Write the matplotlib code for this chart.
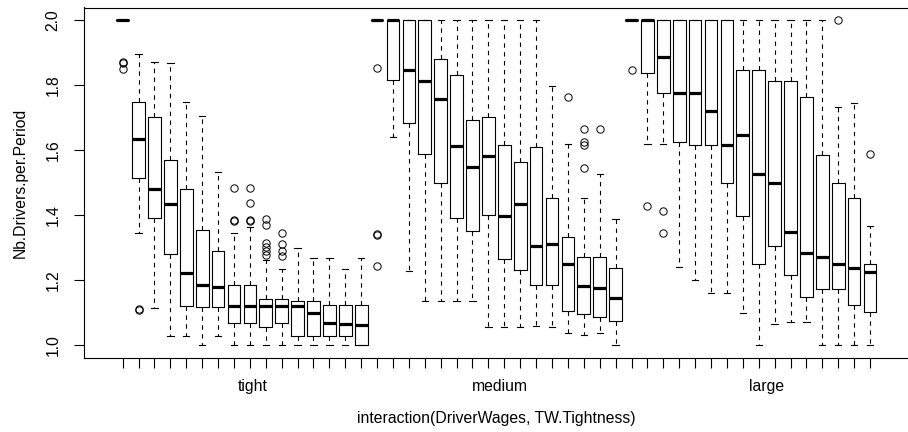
import matplotlib
matplotlib.use("Agg")
import matplotlib.pyplot as plt
import numpy as np

plt.rcParams['font.family'] = ['Liberation Sans', 'DejaVu Sans']

groups = ["tight", "medium", "large"]

# per-box summary statistics (16 wage levels per tightness group)
tight_lo  = [2.0, 1.344, 1.113, 1.029, 1.029, 1.000, 1.029, 1.000, 1.000, 1.000, 1.000, 1.000, 1.000, 1.000, 1.000, 1.000]
tight_q1  = [2.0, 1.514, 1.391, 1.280, 1.120, 1.118, 1.116, 1.067, 1.067, 1.055, 1.067, 1.028, 1.028, 1.028, 1.028, 1.000]
tight_med = [2.0, 1.635, 1.482, 1.434, 1.223, 1.184, 1.178, 1.121, 1.121, 1.121, 1.121, 1.121, 1.100, 1.069, 1.064, 1.062]
tight_q3  = [2.0, 1.748, 1.702, 1.569, 1.482, 1.353, 1.289, 1.185, 1.185, 1.142, 1.142, 1.137, 1.137, 1.124, 1.124, 1.124]
tight_hi  = [2.0, 1.897, 1.873, 1.868, 1.748, 1.707, 1.533, 1.346, 1.365, 1.262, 1.233, 1.298, 1.267, 1.267, 1.233, 1.267]
tight_out = [[1.872, 1.870, 1.850], [1.111, 1.109], [], [], [], [], [],
             [1.483, 1.385, 1.383], [1.483, 1.439, 1.385, 1.383],
             [1.387, 1.370, 1.313, 1.301, 1.289, 1.276],
             [1.346, 1.311, 1.289, 1.274], [], [], [], [], []]

medium_lo  = [2.0, 1.641, 1.228, 1.136, 1.136, 1.136, 1.136, 1.056, 1.056, 1.056, 1.058, 1.056, 1.036, 1.032, 1.036, 1.000]
medium_q1  = [2.0, 1.817, 1.683, 1.590, 1.499, 1.390, 1.350, 1.400, 1.266, 1.230, 1.184, 1.184, 1.106, 1.096, 1.087, 1.075]
medium_med = [2.0, 2.000, 1.848, 1.813, 1.759, 1.613, 1.549, 1.581, 1.399, 1.434, 1.306, 1.312, 1.249, 1.181, 1.175, 1.145]
medium_q3  = [2.0, 2.000, 2.000, 2.000, 1.880, 1.831, 1.694, 1.704, 1.617, 1.563, 1.610, 1.453, 1.332, 1.271, 1.271, 1.237]
medium_hi  = [2.0, 2.000, 2.000, 2.000, 2.000, 2.000, 2.000, 2.000, 2.000, 2.000, 2.000, 1.798, 1.619, 1.452, 1.526, 1.389]
medium_out = [[1.855, 1.341, 1.339, 1.243], [], [], [], [], [], [], [], [], [], [], [],
              [1.765], [1.665, 1.626, 1.617, 1.545], [1.665], []]

large_lo  = [2.0, 1.618, 1.618, 1.241, 1.200, 1.159, 1.159, 1.100, 1.000, 1.065, 1.070, 1.070, 1.000, 1.000, 1.000, 1.000]
large_q1  = [2.0, 1.839, 1.777, 1.625, 1.617, 1.617, 1.499, 1.399, 1.249, 1.306, 1.216, 1.147, 1.173, 1.173, 1.124, 1.102]
large_med = [2.0, 2.000, 1.887, 1.777, 1.777, 1.721, 1.617, 1.648, 1.526, 1.499, 1.347, 1.284, 1.271, 1.249, 1.237, 1.226]
large_q3  = [2.0, 2.000, 2.000, 2.000, 2.000, 2.000, 2.000, 1.848, 1.848, 1.813, 1.813, 1.763, 1.586, 1.499, 1.453, 1.249]
large_hi  = [2.0, 2.000, 2.000, 2.000, 2.000, 2.000, 2.000, 2.000, 2.000, 2.000, 2.000, 2.000, 2.000, 1.734, 1.747, 1.367]
large_out = [[1.848], [1.427], [1.413, 1.344], [], [], [], [], [], [], [], [], [], [],
             [2.0], [], [1.588]]

group_label_pos = [9.19, 24.71, 41.5]

stats = []
for lo, q1, med, q3, hi, out in [
        (tight_lo, tight_q1, tight_med, tight_q3, tight_hi, tight_out),
        (medium_lo, medium_q1, medium_med, medium_q3, medium_hi, medium_out),
        (large_lo, large_q1, large_med, large_q3, large_hi, large_out)]:
    for i in range(len(med)):
        stats.append(dict(whislo=lo[i], q1=q1[i], med=med[i], q3=q3[i],
                          whishi=hi[i], fliers=out[i]))

n = len(stats)
positions = np.arange(1, n + 1)

fig = plt.figure(figsize=(9.08, 4.32), dpi=100)
ax = fig.add_axes([84.2 / 908, 74 / 432, 824.3 / 908, 350.5 / 432])

ax.bxp(stats, positions=positions, widths=0.8, capwidths=0.4,
       showfliers=True, patch_artist=False,
       boxprops=dict(color='black', linewidth=0.8),
       whiskerprops=dict(color='black', linewidth=0.8, linestyle=(0, (4, 4))),
       capprops=dict(color='black', linewidth=0.8),
       medianprops=dict(color='black', linewidth=2.3, solid_capstyle='butt'),
       flierprops=dict(marker='o', markersize=5.3, markerfacecolor='none',
                       markeredgecolor='black', markeredgewidth=0.7,
                       linestyle='none'))

ax.set_xlim(0.5 - 0.04 * n, n + 0.5 + 0.04 * n)
ax.set_ylim(1.0 - 0.04, 2.0 + 0.04)

fs = 11.3
ax.set_xticks(positions)
ax.set_xticklabels([''] * n)
ax.set_xticks(group_label_pos, minor=True)
ax.set_xticklabels(groups, minor=True)
ax.tick_params(axis='x', which='minor', length=0, pad=15, labelsize=fs)
ax.tick_params(axis='x', which='major', length=7, width=0.8, direction='out')

yt = [1.0, 1.2, 1.4, 1.6, 1.8, 2.0]
ax.set_yticks(yt)
ax.set_yticklabels([f"{v:.1f}" for v in yt], rotation=90, va='center')
ax.tick_params(axis='y', length=7, width=0.8, direction='out', pad=10, labelsize=fs)

for s in ax.spines.values():
    s.set_linewidth(0.8)
    s.set_color('black')

ax.set_xlabel("interaction(DriverWages, TW.Tightness)", fontsize=fs)
ax.xaxis.set_label_coords((496 - 84.2) / 824.3, -(418 - 358) / 350.5)
ax.xaxis.label.set_va('center')
ax.set_ylabel("Nb.Drivers.per.Period", fontsize=fs)
ax.yaxis.set_label_coords(-(84.2 - 20) / 824.3, 0.5)
ax.yaxis.label.set_va('center')

fig.savefig("out.png", dpi=100)
